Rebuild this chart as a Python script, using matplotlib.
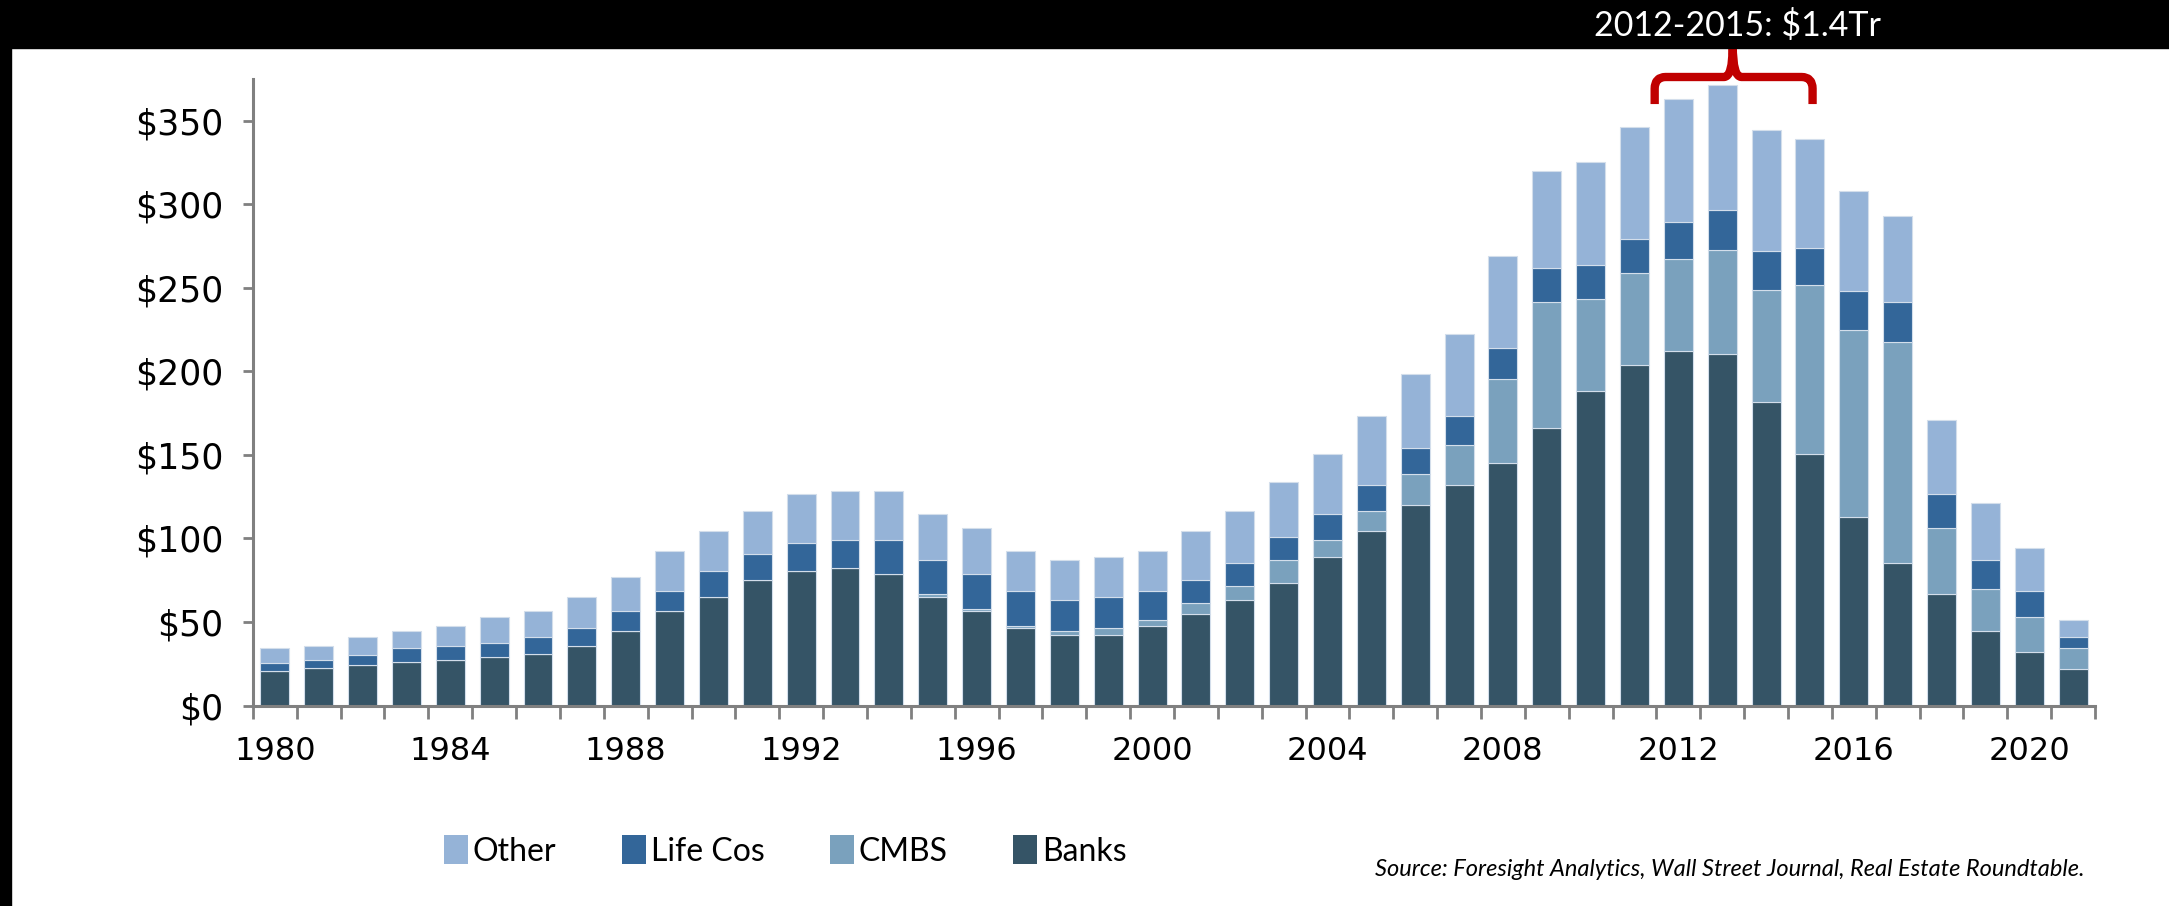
import matplotlib
matplotlib.use('Agg')
import matplotlib.pyplot as plt
from matplotlib.patches import Rectangle, Patch, PathPatch
from matplotlib.path import Path
import numpy as np

# stacked values, $bn (cumulative tops converted to segments)
years = list(range(1980, 2022))
banks = [20.7, 22.4, 24.2, 25.9, 27.4, 29.1, 30.8, 35.7, 44.6, 56.4,
         65.1, 75.4, 80.4, 82.1, 78.6, 64.8, 56.4, 46.1, 42.4, 42.4,
         47.8, 54.7, 63.1, 73.5, 89.0, 104.3, 119.8, 131.9, 145.4, 165.9,
         188.3, 203.6, 212.2, 210.5, 181.4, 150.6, 112.6, 85.3, 66.6, 44.4,
         32.3, 21.9]
cmbs = [0, 0, 0, 0, 0, 0, 0, 0, 0, 0,
        0, 0, 0, 0, 0, 1.8, 1.5, 1.7, 2.0, 3.7,
        3.5, 6.9, 8.6, 13.8, 10.3, 12.3, 19.0, 23.9, 49.8, 75.7,
        55.0, 55.0, 55.0, 61.9, 67.1, 101.1, 111.9, 132.1, 39.6, 25.6,
        20.7, 12.4]
lifecos = [4.9, 5.0, 6.1, 8.4, 8.3, 8.4, 10.1, 10.4, 11.8, 12.1,
           15.3, 15.3, 17.0, 17.2, 20.7, 20.7, 20.7, 20.7, 18.7, 19.0,
           17.2, 13.8, 13.8, 13.8, 15.3, 15.3, 15.3, 17.2, 18.8, 20.2,
           20.2, 20.4, 22.2, 23.9, 23.6, 22.1, 23.7, 23.9, 20.2, 17.3,
           15.5, 6.6]
other = [8.7, 8.3, 10.9, 10.3, 12.1, 15.5, 15.5, 19.0, 20.5, 23.9,
         24.1, 25.9, 29.3, 29.1, 29.1, 27.3, 27.6, 23.9, 24.2, 23.9,
         23.9, 29.1, 31.1, 32.5, 36.0, 41.1, 44.6, 49.6, 54.9, 58.4,
         61.9, 67.1, 73.7, 75.4, 72.2, 65.1, 59.9, 51.5, 44.7, 34.2,
         25.7, 10.4]

labels = ['Other', 'Life Cos', 'CMBS', 'Banks']
colors = {'Banks': '#355466', 'CMBS': '#7aa1bd', 'Life Cos': '#336699', 'Other': '#95b3d7'}

narrow = ['Lato', 'DejaVu Sans']

fig = plt.figure(figsize=(21.69, 9.06), dpi=100)
ax = fig.add_axes([0.1166, 0.2213, 0.8493, 0.6915])

x = np.arange(len(years))
w = 0.66
b1 = np.array(banks)
b2 = b1 + np.array(cmbs)
b3 = b2 + np.array(lifecos)
kw = dict(width=w, edgecolor='#d3deeb', linewidth=0.8)
ax.bar(x, banks, color=colors['Banks'], **kw)
ax.bar(x, cmbs, bottom=b1, color=colors['CMBS'], **kw)
ax.bar(x, lifecos, bottom=b2, color=colors['Life Cos'], **kw)
ax.bar(x, other, bottom=b3, color=colors['Other'], **kw)

ax.set_xlim(-0.5, len(years) - 0.5)
ax.set_ylim(0, 375)

for s in ['top', 'right']:
    ax.spines[s].set_visible(False)
for s in ['left', 'bottom']:
    ax.spines[s].set_color('#808080')
    ax.spines[s].set_linewidth(2.2)

ax.set_yticks(range(0, 351, 50))
ax.set_yticklabels(['$' + str(v) for v in range(0, 351, 50)])
ax.set_xticks(x[::4])
ax.set_xticklabels([str(y) for y in years[::4]])
ax.set_xticks(np.arange(-0.5, len(years), 1), minor=True)
ax.tick_params(axis='y', length=7, width=2, color='#808080', pad=14, labelsize=25)
ax.tick_params(axis='x', which='major', length=0, pad=22, labelsize=23)
ax.tick_params(axis='x', which='minor', length=9, width=2, color='#808080')

# red curly bracket over 2012-2015
xl, xr, xc = 31.46, 35.06, 33.24
yh, ye, yt = 376.2, 360.0, 395.0
rx, ry, sx = 0.25, 7.0, 0.2
verts = [(xl, ye), (xl, yh - ry), (xl, yh), (xl + rx, yh),
         (xc - sx, yh), (xc, yh), (xc, yt),
         (xc, yh), (xc + sx, yh),
         (xr - rx, yh), (xr, yh), (xr, yh - ry), (xr, ye)]
codes = [Path.MOVETO, Path.LINETO, Path.CURVE3, Path.CURVE3,
         Path.LINETO, Path.CURVE3, Path.CURVE3,
         Path.CURVE3, Path.CURVE3,
         Path.LINETO, Path.CURVE3, Path.CURVE3, Path.LINETO]
ax.add_patch(PathPatch(Path(verts, codes), fill=False, edgecolor='#c00000',
                       linewidth=6, clip_on=False, capstyle='butt', joinstyle='round'))

# black frame strips
fig.patches.append(Rectangle((0, 1 - 48 / 906), 1, 48 / 906, transform=fig.transFigure,
                             color='black', zorder=5))
fig.patches.append(Rectangle((0, 0), 11 / 2169, 1, transform=fig.transFigure,
                             color='black', zorder=5))
fig.text(0.801, 1 - 26 / 906, '2012-2015: $1.4Tr', color='white', fontsize=24.5,
         family=narrow, ha='center', va='center', zorder=6)

handles = [Patch(facecolor=colors[l]) for l in labels]
fig.legend(handles, labels, loc='center', bbox_to_anchor=(0.362, 0.0607), ncol=4,
           frameon=False, prop={'family': narrow, 'size': 23},
           handlelength=0.75, handleheight=1.0, handletextpad=0.15, columnspacing=2.05)

fig.text(0.961, 1 - 869 / 906,
         'Source: Foresight Analytics, Wall Street Journal, Real Estate Roundtable.',
         fontsize=17, style='italic', family=narrow, ha='right', va='center')

plt.savefig('out.png', dpi=100)
